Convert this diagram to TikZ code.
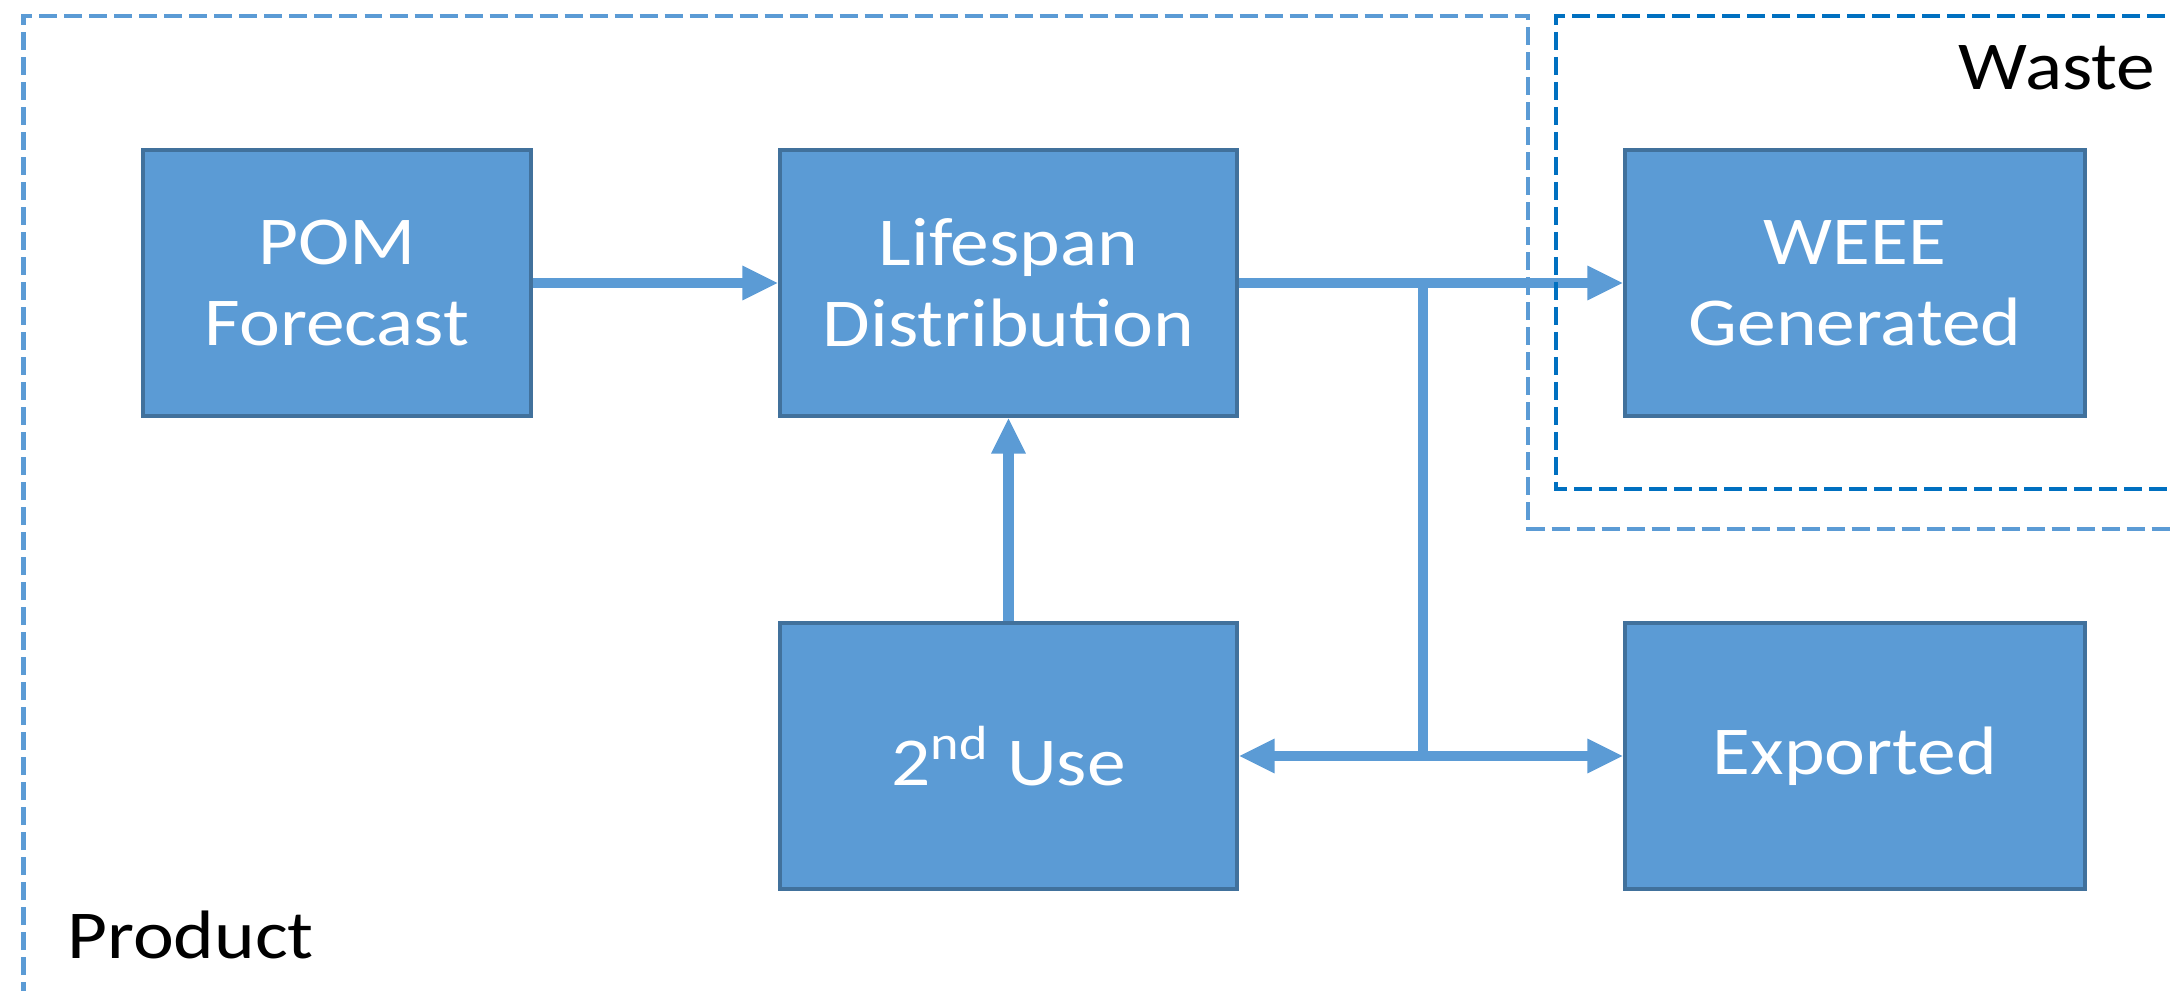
\documentclass[tikz,border=0pt]{standalone}
\usepackage{fontspec}
\setmainfont{Carlito}[FakeStretch=1.13]
\usetikzlibrary{arrows.meta}
\definecolor{boxblue}{HTML}{5B9BD5}
\definecolor{boxedge}{HTML}{41719C}
\definecolor{wasteblue}{HTML}{0070C0}
\tikzset{
  block/.style={draw=boxedge, line width=0.9pt, fill=boxblue, text=white,
    minimum height=2.66cm, inner sep=0pt, align=center,
    font=\fontsize{19.5}{23}\selectfont},
  flow/.style={boxblue, line width=3.1pt},
  tip/.style={-{Triangle[length=0.36cm,width=0.32cm]}},
  region/.style={line width=1.3pt, dash pattern=on 0.18cm off 0.07cm},
  tag/.style={font=\fontsize{19.5}{23}\selectfont, inner sep=0pt}
}
\begin{document}
\begin{tikzpicture}
\clip (0,0) rectangle (21.72,9.9);
\fill[white] (0,0) rectangle (21.72,9.9);
\node[block, minimum width=3.88cm] (pom) at (3.37,7.07) {POM\\Forecast};
\node[block, minimum width=4.57cm] (life) at (10.085,7.07) {Lifespan\\Distribution};
\node[block, minimum width=4.6cm] (weee) at (18.55,7.07) {WEEE\\Generated};
\node[block, minimum width=4.57cm] (use) at (10.085,2.34) {2\textsuperscript{nd} Use};
\node[block, minimum width=4.6cm] (exp) at (18.55,2.34) {Exported};
\coordinate (split) at (14.23,7.07);
\coordinate (fork) at (14.23,2.34);
\draw[flow, tip] (pom) -- (life);
\draw[flow, tip] (life) -- (weee);
\draw[flow, line cap=rect] (split) -- (fork);
\draw[flow, tip] (fork) -- (use);
\draw[flow, tip] (fork) -- (exp);
\draw[flow, tip] (use) -- (life);
% regions
\draw[region, boxblue] (0.235,-0.1) -- (0.235,9.74) -- (15.28,9.74) -- (15.28,4.61) -- (21.9,4.61);
\draw[region, wasteblue] (21.9,9.74) -- (15.56,9.74) -- (15.56,5.01) -- (21.9,5.01);
\node[tag, anchor=base east] (waste) at (21.56,9.0) {Waste};
\node[tag, anchor=base west] (product) at (0.665,0.315) {Product};
\end{tikzpicture}
\end{document}
